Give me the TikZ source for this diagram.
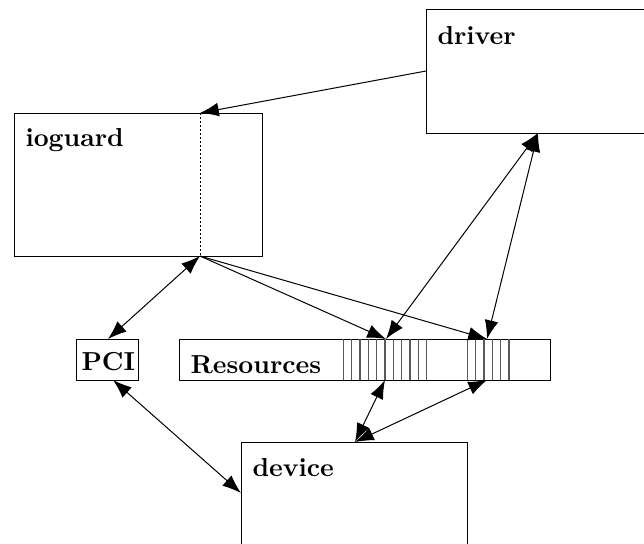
\documentclass[tikz,border=0pt]{standalone}
\usepackage{amsmath}
\usetikzlibrary{arrows.meta,positioning}
\tikzset{
	box/.style={draw, rectangle, inner sep=0pt, outer sep=0pt, anchor=north west},
	lbl/.style={anchor=base west, inner sep=0pt, font=\fontsize{10.4pt}{12pt}\selectfont\bfseries},
	link/.style={-{Latex[length=7.5pt,width=5.5pt]}},
	dlink/.style={{Latex[length=7.5pt,width=5.5pt]}-{Latex[length=7.5pt,width=5.5pt]}},
	slot/.style={draw=black!65, line width=0.5pt}
}

\begin{document}
\begin{tikzpicture}[x=0.4pt,y=-0.4pt]
			\useasboundingbox (0,0) rectangle (644,543);
			\clip (0,0) rectangle (644,543);
			% boxes
			\node[box, minimum width=99.2pt, minimum height=57.2pt] (ioguard) at (14,113) {};
			\node[box, minimum width=120pt, minimum height=49.6pt] (driver) at (426,9) {};
			\node[box, minimum width=24.8pt, minimum height=16.4pt] (pci) at (76,339) {};
			\node[box, minimum width=148.4pt, minimum height=16.4pt] (res) at (179,339) {};
			\node[box, minimum width=90.4pt, minimum height=50pt] (device) at (241,442) {};
			\foreach \i in {0,...,10}
				\draw[slot] ({343.3+8.33*\i},339) -- ++(0,41);
			\foreach \i in {0,...,5}
				\draw[slot] ({467.3+8.33*\i},339) -- ++(0,41);
			\node[lbl] (driverlbl) at (437,44) {driver};
			\node[lbl] (ioguardlbl) at (25,146) {ioguard};
			\node[lbl] (devicelbl) at (252,476) {device};
			\node[lbl] (pcilbl) at (81,370) {PCI};
			\node[lbl] (reslbl) at (190,373) {Resources};
			% attachment points
			\coordinate (iogtop) at (200,113);
			\coordinate (iogbot) at (200,256);
			\coordinate (drvleft) at (426,71);
			\coordinate (drvbot) at (538,133);
			\coordinate (slotAtop) at (386,339);
			\coordinate (slotBtop) at (487,339);
			\coordinate (slotAbot) at (385,380);
			\coordinate (slotBbot) at (487,380);
			\coordinate (pcitop) at (108,339);
			\coordinate (pcibot) at (113,380);
			\coordinate (devleft) at (241,493);
			\coordinate (devtop) at (355,442);
			\draw[dash pattern=on 0.8pt off 0.8pt] (iogtop) -- (iogbot);
			% connectors
			\draw[link] (drvleft) -- (iogtop);
			\draw[link] (iogbot) -- (slotAtop);
			\draw[link] (iogbot) -- (slotBtop);
			\draw[dlink] (drvbot) -- (slotAtop);
			\draw[dlink] (drvbot) -- (slotBtop);
			\draw[dlink] (pcitop) -- (iogbot);
			\draw[dlink] (pcibot) -- (devleft);
			\draw[dlink] (devtop) -- (slotAbot);
			\draw[dlink] (devtop) -- (slotBbot);
\end{tikzpicture}
\end{document}
